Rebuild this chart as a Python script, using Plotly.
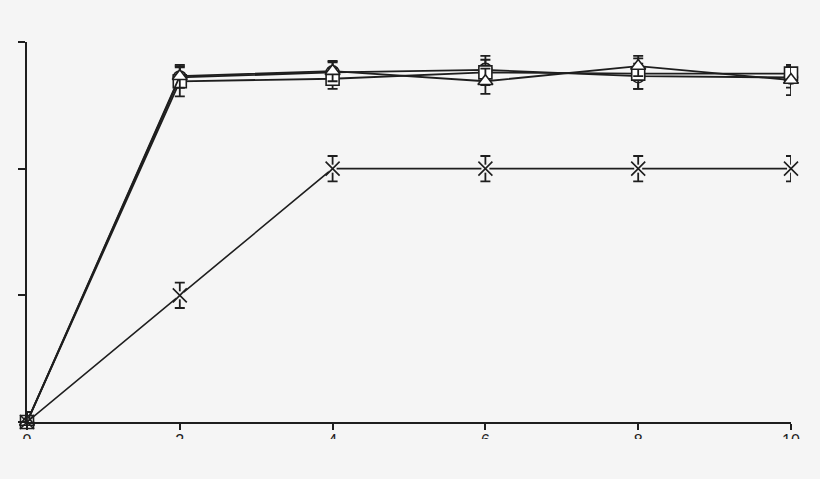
import plotly.graph_objects as go

# ==========================================
# data
# ==========================================
x_vals = [0, 2, 4, 6, 8, 10]

circle_y = [0.0, 2.72, 2.76, 2.78, 2.73, 2.72]
circle_err = [0.08, 0.08, 0.08, 0.11, 0.10, 0.08]

square_y = [0.0, 2.69, 2.71, 2.76, 2.75, 2.75]
square_err = [0.08, 0.12, 0.08, 0.10, 0.12, 0.06]

triangle_y = [0.0, 2.73, 2.77, 2.69, 2.81, 2.70]
triangle_err = [0.08, 0.09, 0.08, 0.10, 0.08, 0.12]

cross_y = [0.0, 1.0, 2.0, 2.0, 2.0, 2.0]
cross_err = [0.08, 0.10, 0.10, 0.10, 0.10, 0.10]

x_ticks = [0, 2, 4, 6, 8, 10]
y_ticks = [0, 1, 2, 3]

BG = '#f5f5f5'
INK = '#1e1e1e'

fig = go.Figure()


def add_series(y, err, symbol, width, fill):
    fig.add_trace(go.Scatter(
        x=x_vals, y=y,
        mode='lines+markers',
        line=dict(color=INK, width=width),
        marker=dict(symbol=symbol, size=13, color=fill,
                    line=dict(color=INK, width=1.6)),
        error_y=dict(type='data', array=err, visible=True,
                     color=INK, thickness=1.8, width=5),
        cliponaxis=False,
        showlegend=False,
    ))


add_series(circle_y, circle_err, 'circle', 1.8, 'white')
add_series(square_y, square_err, 'square', 1.8, 'white')
add_series(triangle_y, triangle_err, 'triangle-up', 1.8, 'white')

# X series: line + error bars, then a small background patch so the
# error bar stem doesn't run through the cross, then the cross itself
fig.add_trace(go.Scatter(
    x=x_vals, y=cross_y, mode='lines',
    line=dict(color=INK, width=1.6),
    error_y=dict(type='data', array=cross_err, visible=True,
                 color=INK, thickness=1.8, width=5),
    cliponaxis=False, showlegend=False,
))
fig.add_trace(go.Scatter(
    x=x_vals[1:], y=cross_y[1:], mode='markers',
    marker=dict(symbol='square', size=8, color=BG),
    cliponaxis=False, showlegend=False,
))
fig.add_trace(go.Scatter(
    x=x_vals, y=cross_y, mode='markers',
    marker=dict(symbol='x-thin', size=14, line=dict(color=INK, width=1.6)),
    cliponaxis=False, showlegend=False,
))

fig.update_layout(
    width=820, height=479,
    margin=dict(l=27, r=29, t=42, b=57),
    paper_bgcolor=BG,
    plot_bgcolor=BG,
    font=dict(family='Liberation Sans, Arial, sans-serif', size=16, color=INK),
    # tick labels are cut off at the bottom edge in the reference
    shapes=[dict(type='rect', xref='paper', yref='paper',
                 x0=-0.1, x1=1.1, y0=-0.2, y1=-0.045,
                 fillcolor=BG, line=dict(width=0), layer='above')],
)

fig.update_xaxes(
    range=[0, 10],
    tickvals=x_ticks,
    showgrid=False, zeroline=False,
    showline=True, linecolor=INK, linewidth=2,
    ticks='outside', ticklen=6, tickwidth=2, tickcolor=INK,
    ticklabelstandoff=-3,
    automargin=False,
)
fig.update_yaxes(
    range=[0, 3],
    tickvals=y_ticks,
    showticklabels=False,
    showgrid=False, zeroline=False,
    showline=True, linecolor=INK, linewidth=2,
    ticks='outside', ticklen=7, tickwidth=2, tickcolor=INK,
    automargin=False,
)

# drop the default page margin so the figure fills the window
fig.write_html(
    "out.html",
    config={'displayModeBar': False},
    post_script="document.body.style.margin='0';"
                "document.body.style.background='" + BG + "';",
)
